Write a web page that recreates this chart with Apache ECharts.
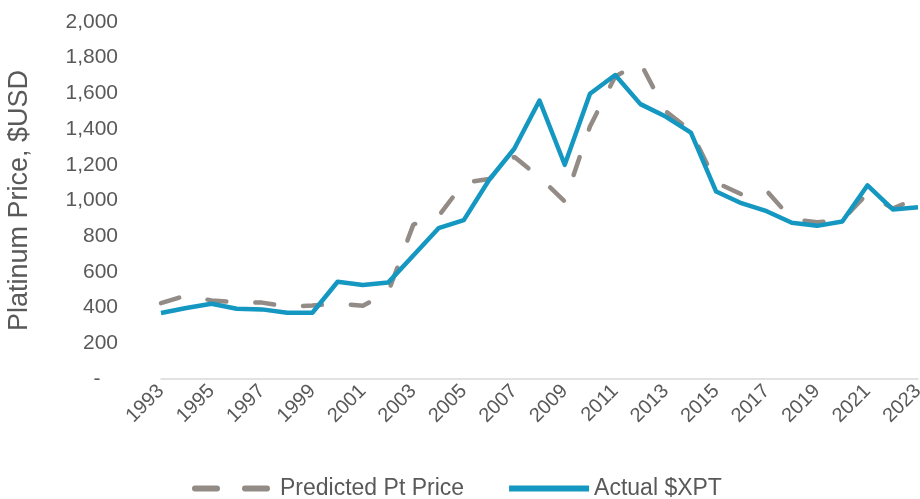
<!DOCTYPE html>
<html>
<head>
<meta charset="utf-8">
<title>Platinum price</title>
<script src="https://cdn.jsdelivr.net/npm/echarts@6.0.0/dist/echarts.min.js"></script>
<style>
  html, body { margin: 0; padding: 0; background: #fff; }
  #chart { width: 920px; height: 499px; }
</style>
</head>
<body>
<div id="chart"></div>
<script>
// years on the x axis
const years = []
for (let y = 1993; y <= 2023; y++) years.push(String(y))

// values, $USD
const predicted = [
  425, 468, 440, 430, 428, 405, 412, 422, 410, 485,
  865, 912, 1100, 1120, 1245, 1130, 995, 1415, 1695, 1770,
  1500, 1390, 1100, 1035, 1055, 895, 878, 890, 1040, 955,
  1015
]
const actual = [
  370, 398, 422, 394, 390, 371, 371, 545, 527, 540,
  692, 845, 890, 1115, 1290, 1560, 1200, 1598, 1703, 1540,
  1470, 1380, 1050, 985, 940, 875, 858, 882, 1085, 950,
  962
]

const yTicks = [0, 200, 400, 600, 800, 1000, 1200, 1400, 1600, 1800, 2000]

const textColor = '#595959'
const font = 'Liberation Sans, Arial, sans-serif'

const chart = echarts.init(document.getElementById('chart'))

chart.setOption({
  animation: false,
  grid: {
    left: 161,
    right: 2,
    top: 22,
    bottom: 120,
    outerBoundsMode: 'none'
  },
  legend: {
    left: 187,
    top: 472,
    itemWidth: 80,
    itemHeight: 14,
    itemGap: 42,
    itemStyle: { opacity: 0 },
    textStyle: { color: textColor, fontSize: 23, fontFamily: font },
    data: [
      { name: 'Predicted Pt Price', lineStyle: { type: [22, 28], width: 6, cap: 'round' } },
      { name: 'Actual $XPT', lineStyle: { width: 6 } }
    ]
  },
  xAxis: {
    type: 'category',
    data: years,
    boundaryGap: false,
    axisLine: { lineStyle: { color: '#d9d9d9', width: 1.5 } },
    axisTick: { show: false },
    axisLabel: {
      interval: 1,
      rotate: 45,
      margin: 9,
      color: textColor,
      fontSize: 20,
      fontFamily: font
    },
    splitLine: { show: false }
  },
  yAxis: {
    type: 'value',
    min: yTicks[0],
    max: yTicks[yTicks.length - 1],
    interval: 200,
    name: 'Platinum Price, $USD',
    nameLocation: 'middle',
    nameGap: 128,
    nameTextStyle: { color: textColor, fontSize: 27, fontFamily: font },
    axisLine: { show: false },
    axisTick: { show: false },
    splitLine: { show: false },
    axisLabel: {
      margin: 43,
      color: textColor,
      fontSize: 21,
      fontFamily: font,
      formatter (v) {
        if (v === 0) return '-   '
        return v.toLocaleString('en-US')
      }
    }
  },
  series: [
    {
      name: 'Predicted Pt Price',
      type: 'line',
      data: predicted,
      symbol: 'none',
      lineStyle: { color: '#928b86', width: 4.5, type: [19, 29], cap: 'round' },
      itemStyle: { color: '#928b86' }
    },
    {
      name: 'Actual $XPT',
      type: 'line',
      data: actual,
      symbol: 'none',
      lineStyle: { color: '#1497c0', width: 4.5, join: 'round' },
      itemStyle: { color: '#1497c0' }
    }
  ]
})
</script>
</body>
</html>
